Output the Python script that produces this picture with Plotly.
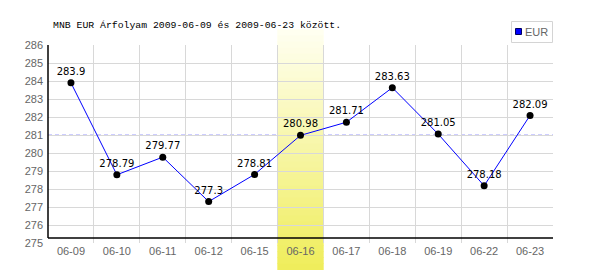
import plotly.graph_objects as go

categories = ["06-09", "06-10", "06-11", "06-12", "06-15", "06-16",
              "06-17", "06-18", "06-19", "06-22", "06-23"]
eur_values = [283.9, 278.79, 279.77, 277.3, 278.81, 280.98,
              281.71, 283.63, 281.05, 278.18, 282.09]
highlight_day = "06-16"
reference_level = 281
y_min, y_max = 275, 286
title_text = "MNB EUR Árfolyam 2009-06-09 és 2009-06-23 között."
series_name = "EUR"

W, H = 600, 270
ML, MR, MT, MB = 48, 47, 45, 27
plot_w = W - ML - MR
plot_h = H - MT - MB


def px_x(px):
    return (px - ML) / plot_w


def px_y(py):
    return (H - MB - py) / plot_h


fig = go.Figure()

fig.add_trace(go.Scatter(
    x=categories, y=eur_values,
    mode="lines+markers+text",
    text=[f"{v:g}" for v in eur_values],
    textposition="top center",
    textfont=dict(family="DejaVu Sans", size=10, color="#000000"),
    line=dict(color="#0000ff", width=1),
    marker=dict(color="#000000", size=7),
    cliponaxis=False,
    showlegend=False,
    name=series_name,
))

shapes = []
# reference dashed line
shapes.append(dict(type="line", xref="paper", yref="y", x0=0, x1=1,
                   y0=reference_level, y1=reference_level,
                   line=dict(color="#9a9aff", width=1, dash="4px,3px"),
                   layer="between"))

# highlight band with vertical gradient
idx = categories.index(highlight_day)
top_px, bot_px = 30, 270
n = 40
c_top = (255, 255, 242)
c_bot = (239, 237, 90)
for layer in ("below", "between"):
    for i in range(n):
        p0 = top_px + (bot_px - top_px) * i / n
        p1 = top_px + (bot_px - top_px) * (i + 1) / n
        f = (i + 0.5) / n
        col = tuple(round(c_top[k] + (c_bot[k] - c_top[k]) * f) for k in range(3))
        shapes.append(dict(
            type="rect", xref="x", yref="paper",
            x0=idx - 0.5, x1=idx + 0.5,
            y0=px_y(p1), y1=px_y(p0) + 0.002,
            fillcolor="rgb(%d,%d,%d)" % col, line=dict(width=0), layer=layer))

# black axis lines
axis_y = y_min + 5 / (plot_h / (y_max - y_min))
shapes.append(dict(type="line", xref="paper", yref="y", x0=0, x1=1,
                   y0=axis_y, y1=axis_y, line=dict(color="#000000", width=1.5),
                   layer="above"))
shapes.append(dict(type="line", xref="paper", yref="y", x0=0, x1=0,
                   y0=axis_y, y1=y_max, line=dict(color="#000000", width=1.5),
                   layer="above"))

# legend box and swatch
shapes.append(dict(type="rect", xref="paper", yref="paper",
                   x0=px_x(511.5), x1=px_x(552.5), y0=px_y(42.5), y1=px_y(21.5),
                   line=dict(color="#d4d4d4", width=1), fillcolor="white",
                   layer="above"))
shapes.append(dict(type="rect", xref="paper", yref="paper",
                   x0=px_x(515.5), x1=px_x(521.5), y0=px_y(34.5), y1=px_y(28.5),
                   line=dict(color="#000060", width=1), fillcolor="#0000ff",
                   layer="above"))

fig.update_layout(
    width=W, height=H,
    margin=dict(l=ML, r=MR, t=MT, b=MB, pad=0),
    paper_bgcolor="white", plot_bgcolor="white",
    shapes=shapes,
    title=dict(text=title_text, x=px_x(53), xref="paper", xanchor="left",
               y=1 - 25 / H, yref="container", yanchor="middle",
               font=dict(family="Liberation Mono", size=9.8, color="#000000")),
    xaxis=dict(type="category", range=[-0.5, len(categories) - 0.5],
               tickson="boundaries", showgrid=True, gridcolor="#d8d8d8",
               gridwidth=1, ticks="", showline=False, zeroline=False,
               tickfont=dict(family="Liberation Sans", size=11, color="#666666")),
    yaxis=dict(range=[y_min, y_max], dtick=1, showgrid=True,
               gridcolor="#d8d8d8", gridwidth=1, ticks="", showline=False,
               zeroline=False, ticklabelstandoff=4,
               tickfont=dict(family="Liberation Sans", size=11, color="#666666")),
    annotations=[dict(
        xref="paper", yref="paper", x=px_x(523), y=px_y(31.5),
        xanchor="left", yanchor="middle",
        text=series_name, showarrow=False,
        font=dict(family="Liberation Sans", size=11, color="#666666"))],
)

fig.write_html("out.html")
